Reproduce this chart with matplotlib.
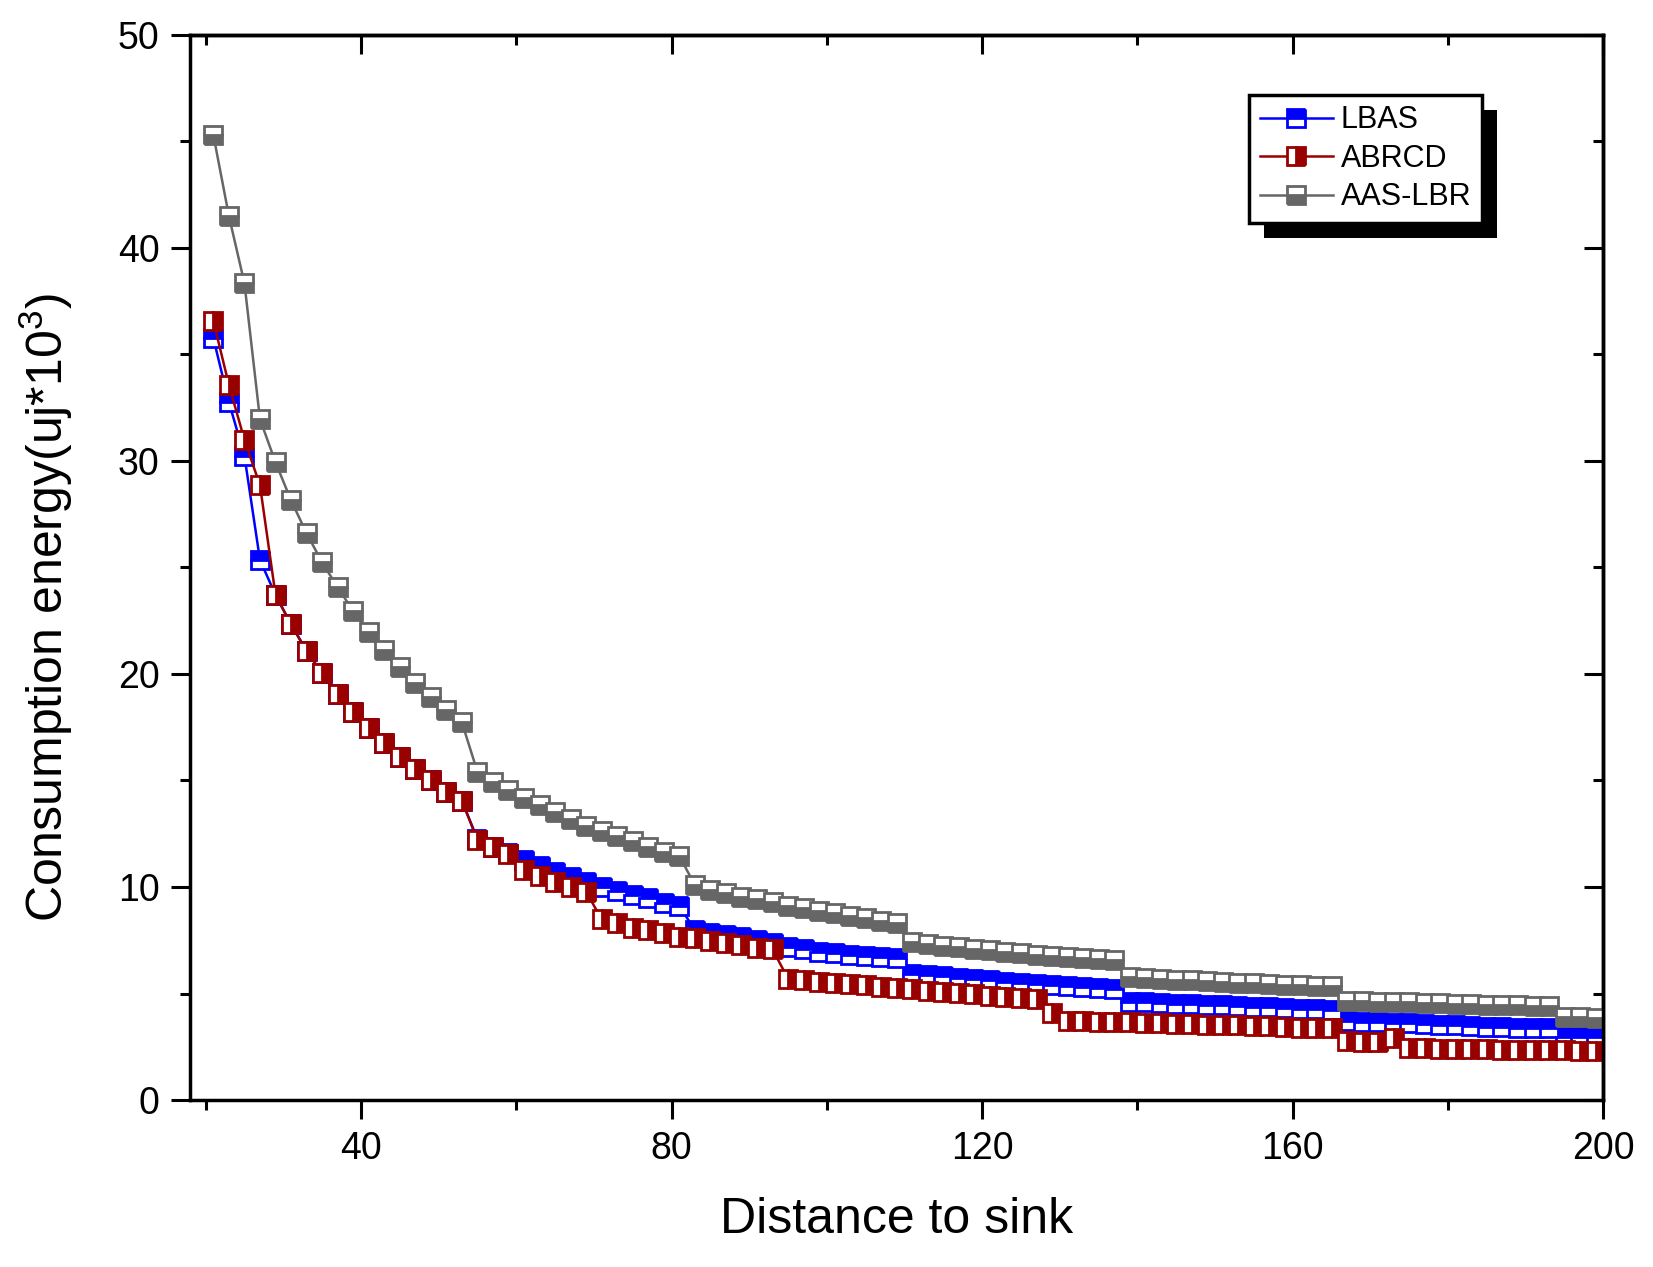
import numpy as np
import matplotlib.pyplot as plt
from matplotlib.patches import Rectangle
from matplotlib.ticker import MultipleLocator

plt.rcParams['font.family'] = ['Liberation Sans', 'DejaVu Sans']
plt.rcParams['mathtext.default'] = 'regular'

# distance to sink (one point every 2 units)
dist = list(range(21, 200, 2))

lbas = [35.76, 32.76, 30.23, 25.35,
        23.71, 22.33, 21.08, 20.03, 19.06, 18.22, 17.45, 16.75, 16.09, 15.53, 15.02, 14.47, 14.05,
        12.25, 11.90, 11.60,
        11.27, 10.99, 10.69, 10.45, 10.22, 10.00, 9.81, 9.62, 9.48, 9.23, 9.11,
        7.98, 7.86, 7.75, 7.64, 7.51, 7.36, 7.20, 7.07, 6.97, 6.90, 6.82, 6.75, 6.70, 6.65,
        5.92, 5.86, 5.80, 5.74, 5.68, 5.62, 5.56, 5.51, 5.46, 5.41, 5.36, 5.31, 5.26, 5.21,
        4.62, 4.59, 4.56, 4.53, 4.50, 4.47, 4.44, 4.41, 4.38, 4.35, 4.32, 4.29, 4.26, 4.23,
        3.70, 3.67, 3.65, 3.62, 3.60, 3.57, 3.54, 3.51, 3.48, 3.45, 3.43, 3.40, 3.38, 3.36,
        2.98, 2.96, 2.95]

abrcd = [36.57, 33.57, 30.99, 28.86,
         23.71, 22.33, 21.08, 20.03, 19.06, 18.22, 17.45, 16.75, 16.09, 15.53, 15.02, 14.47, 14.05,
         12.21, 11.86, 11.55, 10.80, 10.52, 10.25, 10.02, 9.78,
         8.48, 8.32, 8.06, 7.98, 7.83, 7.67, 7.59, 7.47, 7.36, 7.28, 7.15, 7.07,
         5.70, 5.63, 5.56, 5.50, 5.44, 5.38, 5.32, 5.26, 5.20, 5.14, 5.08, 5.02, 4.96, 4.90, 4.85, 4.80, 4.75,
         4.07,
         3.72, 3.70, 3.68, 3.66, 3.64, 3.62, 3.60, 3.58, 3.56, 3.54, 3.52, 3.50, 3.48, 3.46, 3.43, 3.40, 3.38, 3.36,
         2.75, 2.72, 2.70, 2.92,
         2.43, 2.42, 2.41, 2.40, 2.39, 2.38, 2.37, 2.36, 2.35, 2.34, 2.33, 2.32, 2.30]

aaslbr = [45.30, 41.50, 38.34, 31.96,
          29.94, 28.15, 26.61, 25.24, 24.07, 22.96, 21.97, 21.11, 20.31, 19.56, 18.91, 18.30, 17.73,
          15.41, 14.94, 14.55, 14.16, 13.85, 13.54, 13.19, 12.88, 12.64, 12.39, 12.15, 11.89, 11.66, 11.47,
          10.08, 9.86, 9.70, 9.54, 9.42, 9.28, 9.12, 9.00, 8.89, 8.76, 8.64, 8.53, 8.42, 8.32,
          7.43, 7.34, 7.25, 7.17, 7.10, 7.03, 6.96, 6.89, 6.83, 6.77, 6.71, 6.65, 6.60, 6.55,
          5.77, 5.73, 5.69, 5.65, 5.62, 5.58, 5.55, 5.51, 5.48, 5.45, 5.42, 5.39, 5.36, 5.33,
          4.66, 4.64, 4.62, 4.60, 4.58, 4.56, 4.54, 4.52, 4.50, 4.48, 4.46, 4.44, 4.42, 4.41,
          3.90, 3.88, 3.87]

names = ['LBAS', 'ABRCD', 'AAS-LBR']
colors = ['#0000ff', '#990000', '#666666']
fills = ['top', 'right', 'bottom']

fig = plt.figure(figsize=(16.53, 12.67), dpi=100)
ax = fig.add_axes([0.115, 0.1318, 0.855, 0.8406])

for y, name, c, fs in zip([lbas, abrcd, aaslbr], names, colors, fills):
    ax.plot(dist, y, color=c, lw=1.8, marker='s', ms=12.5, mew=2.0,
            mec=c, mfc=c, fillstyle=fs, markerfacecoloralt='white', label=name)

ax.set_xlim(18, 200)
ax.set_ylim(0, 50)
ax.xaxis.set_major_locator(MultipleLocator(40))
ax.xaxis.set_minor_locator(MultipleLocator(20))
ax.yaxis.set_major_locator(MultipleLocator(10))
ax.yaxis.set_minor_locator(MultipleLocator(5))

for s in ax.spines.values():
    s.set_linewidth(2.5)
ax.tick_params(which='major', direction='out', length=14, width=2.2, labelsize=27, pad=8)
ax.tick_params(which='minor', direction='out', length=7, width=2.2)

top = ax.secondary_xaxis('top')
top.xaxis.set_major_locator(MultipleLocator(40))
top.xaxis.set_minor_locator(MultipleLocator(20))
top.tick_params(which='major', direction='in', length=14, width=2.2, labeltop=False)
top.tick_params(which='minor', direction='in', length=7, width=2.2)
right = ax.secondary_yaxis('right')
right.yaxis.set_major_locator(MultipleLocator(10))
right.yaxis.set_minor_locator(MultipleLocator(5))
right.tick_params(which='major', direction='in', length=14, width=2.2, labelright=False)
right.tick_params(which='minor', direction='in', length=7, width=2.2)
for s in list(top.spines.values()) + list(right.spines.values()):
    s.set_linewidth(2.5)

ax.set_xlabel('Distance to sink', fontsize=36, labelpad=22)
ax.set_ylabel('Consumption energy(uj*10$^{3}$)', fontsize=36)
ax.yaxis.set_label_coords(-0.0814, 0.462)

leg = ax.legend(loc='upper right', bbox_to_anchor=(0.914, 0.944), fontsize=22,
                fancybox=False, edgecolor='black', framealpha=1, borderpad=0.35,
                labelspacing=0.28, handlelength=2.4, handletextpad=0.25, borderaxespad=0)
leg.get_frame().set_linewidth(2.5)

fig.canvas.draw()
bb = leg.get_window_extent()
ax.add_patch(Rectangle((bb.x0 + 15, bb.y0 - 15), bb.width, bb.height, transform=None,
                       facecolor='black', edgecolor='none', zorder=4.9, clip_on=False))

fig.savefig('out.png', dpi=100)
